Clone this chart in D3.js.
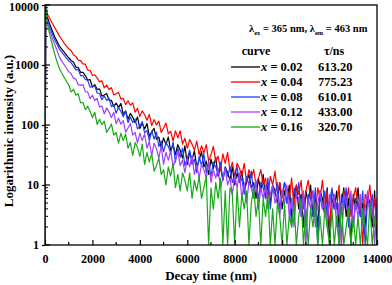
<!DOCTYPE html>
<html><head><meta charset="utf-8">
<script src="https://cdn.jsdelivr.net/npm/d3@7"></script>
<style>body{margin:0;background:#fff}svg text{font-family:"Liberation Serif","Times New Roman",serif;font-weight:bold;fill:#000}</style>
</head><body>
<svg id="c" width="392" height="285"></svg>
<script>
// ---- data ----
const curveLabels = ["0.02", "0.04", "0.08", "0.12", "0.16"];
const tauLabels = ["613.20", "775.23", "610.01", "433.00", "320.70"];
const xTickValues = [0, 2000, 4000, 6000, 8000, 10000, 12000, 14000];
const yTickValues = [1, 10, 100, 1000, 10000];
// decay times (ns): rise point, then one channel every 100 ns
const decayTime = [0, 30].concat(d3.range(100, 14001, 100));

const x002 = [1, 9800,
 6300,4790,3800,3020,2510,2090,1860,1660,1480,1320,
 1189,1120,923,912,756,754,666,561,573,427,
 472,391,400,303,316,334,260,258,204,232,
 195,229,151,172,125,156,135,109,136,87,
 109,86,106,65,76,88,58,63,42,61,
 47,63,37,47,32,47,38,28,45,22,
 35,26,37,20,26,36,20,25,15,27,
 19,29,14,20,12,20,16,12,20,10,
 16,11,17,8,11,15,9,11,6,13,
 8,15,6,10,5,10,8,5,11,4,
 8,5,10,3,6,10,4,7,2,8,
 5,10,3,6,2,8,6,3,9,1,
 6,4,8,2,5,9,3,6,1,7,
 4,9,3,5,2,7,5,2,8,1];
const x004 = [1, 9900,
 7080,6030,5010,4270,3630,3090,2690,2340,2090,1860,
 1740,1482,1392,1203,1182,1041,1035,822,814,673,
 687,608,524,547,414,462,391,419,318,331,
 350,272,277,219,254,213,234,164,189,138,
 172,148,120,150,98,123,100,116,75,89,
 108,71,79,54,80,61,80,48,60,41,
 57,48,38,54,32,45,34,47,25,32,
 44,25,30,18,33,23,35,17,24,14,
 23,19,14,23,11,18,13,18,10,13,
 18,10,13,6,14,10,17,7,11,6,
 11,9,6,13,4,10,7,12,4,8,
 12,6,8,3,9,6,12,4,8,2,
 8,6,4,10,1,8,5,9,3,6,
 9,4,6,1,7,5,10,3,6,2];
const x008 = [1, 9600,
 5600,4270,3380,2690,2230,1860,1660,1480,1320,1170,
 1095,958,829,846,667,665,574,554,428,436,
 451,342,332,263,305,256,281,202,217,158,
 197,169,137,170,109,136,110,126,86,95,
 114,74,81,55,80,58,76,44,54,36,
 51,44,34,52,24,41,29,41,21,28,
 38,22,27,16,30,21,33,16,24,14,
 24,20,15,24,12,19,14,20,11,14,
 20,11,13,7,14,10,17,7,11,6,
 11,9,6,13,4,10,7,11,4,7,
 11,5,7,2,9,6,11,3,7,2,
 7,6,3,9,1,7,4,8,3,5,
 9,4,5,1,7,4,9,2,6,2,
 6,5,3,8,1,6,4,7,2,4];
const x012 = [1, 9700,
 5250,3890,2880,2240,1780,1380,1170,1020,891,776,
 715,603,582,470,457,472,360,357,275,313,
 256,276,199,208,154,193,165,133,163,105,
 130,103,118,76,89,106,68,75,50,73,
 55,71,41,53,31,50,40,28,45,22,
 35,26,37,20,26,37,21,26,16,28,
 20,31,15,22,13,22,18,13,23,11,
 18,13,19,9,13,19,10,13,7,14,
 9,16,6,11,5,11,9,6,12,4,
 9,6,10,4,7,10,5,7,3,8,
 5,10,3,6,2,7,6,3,8,1,
 6,4,8,2,5,8,4,5,2,7,
 4,7,2,5,1,7,5,3,8,2,
 5,3,7,2,4,8,3,5,1,6];
const x016 = [1, 9900,
 4790,3240,2240,1580,1150,891,741,631,537,468,
 355,394,315,331,233,239,180,206,169,133,
 163,102,125,101,116,75,87,104,68,75,
 50,73,55,71,41,51,31,51,42,30,
 48,22,35,24,33,17,21,28,15,18,
 10,20,14,23,9,15,8,16,12,8,
 16,6,12,8,14,6,9,14,1,9,
 4,11,6,13,1,8,1,9,7,1,
 9,2,7,4,8,1,5,9,3,6,
 1,6,3,7,1,4,1,5,3,1,
 5,1,3,2,5,1,3,6,1,4,
 1,4,2,5,1,3,1,4,2,1,
 4,1,3,1,5,1,2,4,1,3,
 1,3,1,4,2,1,5,1,3,1];

// ---- styles ----
const lineColors = ["#000000", "#ff0000", "#1f3cff", "#a040ff", "#18a818"];
const allSeries = [x002, x004, x008, x012, x016];

// ---- layout ----
const svg = d3.select("#c");
const L = 45, R = 377, T = 5, B = 245;
const xs = d3.scaleLinear().domain([0, 14000]).range([L, R]);
const ys = d3.scaleLog().domain([1, 10000]).range([B, T]);

svg.append("defs").append("clipPath").attr("id", "clip")
  .append("rect").attr("x", L).attr("y", T).attr("width", R - L).attr("height", B - T);

const line = d3.line().x((d, i) => xs(decayTime[i])).y(d => ys(Math.max(1, d)));
const g = svg.append("g").attr("clip-path", "url(#clip)");
allSeries.forEach((s, k) => {
  g.append("path").datum(s).attr("d", line)
    .attr("fill", "none").attr("stroke", lineColors[k]).attr("stroke-width", 1.2)
    .attr("stroke-linejoin", "round");
});

// frame
svg.append("rect").attr("x", L).attr("y", T).attr("width", R - L).attr("height", B - T)
  .attr("fill", "none").attr("stroke", "#000").attr("stroke-width", 1.3);

// x axis (ticks inward)
const xMinor = d3.range(1000, 14000, 2000);
const xa = svg.append("g").attr("transform", `translate(0,${B})`)
  .call(d3.axisBottom(xs).tickValues(xTickValues).tickSize(-5).tickPadding(9).tickFormat(d3.format("d")));
xa.select(".domain").remove();
xa.selectAll("line").attr("stroke-width", 1.2);
svg.append("g").selectAll("line").data(xMinor).join("line")
  .attr("x1", d => xs(d)).attr("x2", d => xs(d)).attr("y1", B).attr("y2", B - 3)
  .attr("stroke", "#000").attr("stroke-width", 1.2);

// y axis
const ya = svg.append("g").attr("transform", `translate(${L},0)`)
  .call(d3.axisLeft(ys).tickValues(yTickValues).tickSize(3).tickPadding(3).tickFormat(d3.format("d")));
ya.select(".domain").remove();
ya.selectAll("line").attr("stroke-width", 1.2);
svg.append("g").selectAll("line").data(yTickValues).join("line")
  .attr("x1", L).attr("x2", L + 5).attr("y1", d => ys(d)).attr("y2", d => ys(d))
  .attr("stroke", "#000").attr("stroke-width", 1.2);
const yMinor = [];
[1, 10, 100, 1000].forEach(dec => { for (let m = 2; m <= 9; m++) yMinor.push(dec * m); });
svg.append("g").selectAll("line").data(yMinor).join("line")
  .attr("x1", L).attr("x2", L + 3).attr("y1", d => ys(d)).attr("y2", d => ys(d))
  .attr("stroke", "#000").attr("stroke-width", 1);

svg.selectAll(".tick text").attr("font-family", "Liberation Serif").style("font-size", "12px").style("font-weight", "bold");
ya.selectAll(".tick text").filter(d => d === 10000).attr("dy", "0.42em");

// axis titles
svg.append("text").attr("x", (L + R) / 2).attr("y", 280).attr("text-anchor", "middle")
  .style("font-size", "13px").text("Decay time (nm)");
svg.append("text").attr("transform", `translate(13,${(T + B) / 2 + 6}) rotate(-90)`).attr("text-anchor", "middle")
  .style("font-size", "13px").text("Logarithmic intensity (a.u.)");

// legend
const title = svg.append("text").attr("x", 249).attr("y", 32).style("font-size", "10.5px");
title.append("tspan").text("λ");
title.append("tspan").attr("dy", 3).style("font-size", "6.5px").text("ex");
title.append("tspan").attr("dy", -3).text(" = 365 nm, λ");
title.append("tspan").attr("dy", 3).style("font-size", "6.5px").text("em");
title.append("tspan").attr("dy", -3).text(" = 463 nm");

svg.append("text").attr("x", 256).attr("y", 55).attr("text-anchor", "middle").style("font-size", "12px").text("curve");
svg.append("text").attr("x", 334).attr("y", 55).attr("text-anchor", "middle").style("font-size", "12px").text("τ/ns");

curveLabels.forEach((lab, i) => {
  const y = 67 + i * 15;
  svg.append("line").attr("x1", 231).attr("x2", 260).attr("y1", y).attr("y2", y)
    .attr("stroke", lineColors[i]).attr("stroke-width", 1.3);
  const t = svg.append("text").attr("x", 261).attr("y", y + 4).style("font-size", "12.5px");
  t.append("tspan").style("font-style", "italic").text("x");
  t.append("tspan").text(" = " + lab);
  svg.append("text").attr("x", 318).attr("y", y + 4).style("font-size", "12.5px").text(tauLabels[i]);
});
</script>
</body></html>
